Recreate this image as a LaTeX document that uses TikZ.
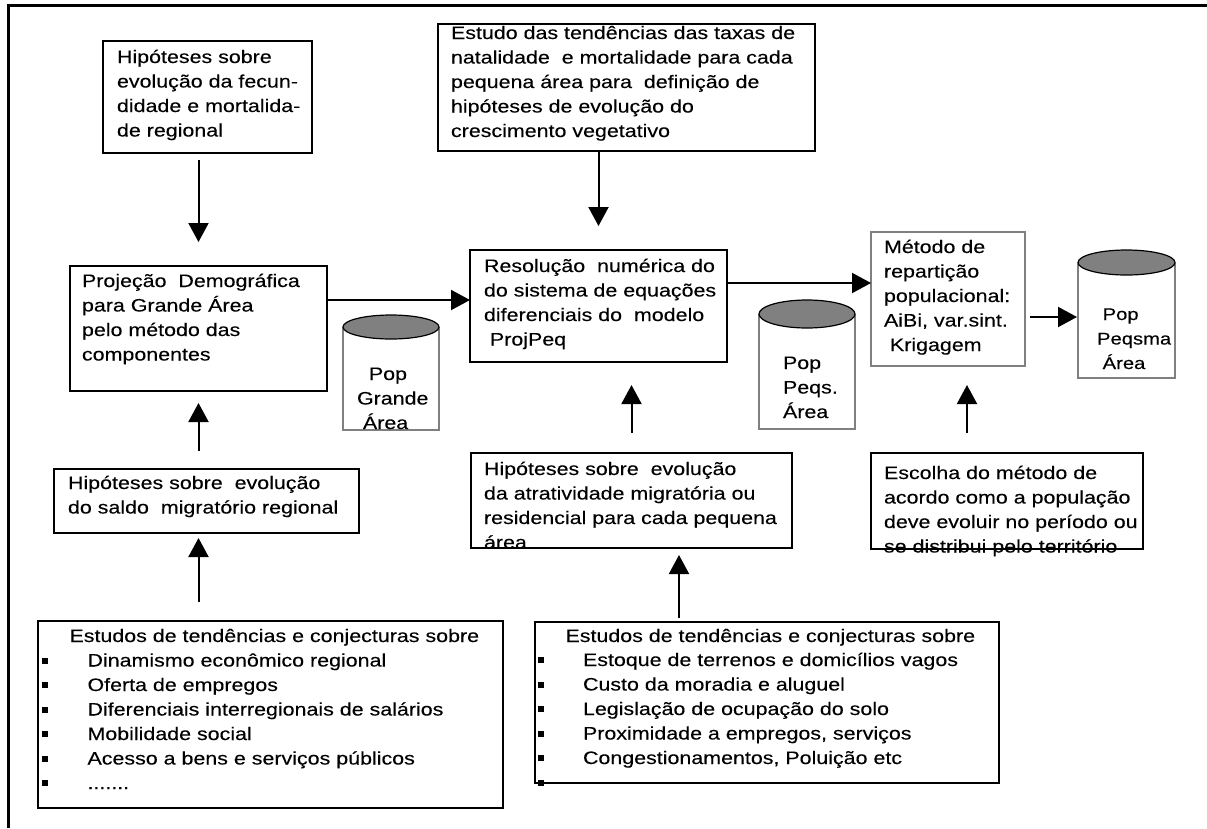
\documentclass[tikz,border=0pt]{standalone}
\usepackage{fontspec}
\setmainfont{Liberation Sans}[FakeStretch=1.19,FakeBold=0.15]
\usetikzlibrary{arrows.meta,calc}
\newcommand\bul{\llap{\rule[3pt]{6pt}{6pt}\hspace{39.5pt}}}
\newcommand\tl[1]{\begin{tabular}[t]{@{}l@{}}#1\end{tabular}}
\begin{document}
\begin{tikzpicture}[x=1pt,y=-1pt,
  box/.style={draw, line width=1.8pt, inner sep=0, outer sep=0, anchor=north west},
  gbox/.style={box, draw=gray},
  hold/.style={inner sep=0, outer sep=0, anchor=north west},
  txt/.style={inner sep=0, outer sep=0, anchor=base west,
    font=\fontsize{18}{24.5}\selectfont},
  cyl/.style={draw=gray, line width=1.8pt},
  cyltop/.style={draw=black, fill=gray, line width=1.2pt},
  arr/.style={line width=2pt, -{Triangle[length=19pt,width=20pt]}},
  frame/.style={line width=2.5pt}]
\useasboundingbox (0,0) rectangle (1207,828);
\fill[white] (0,0) rectangle (1207,828);

% outer frame
\coordinate (fa) at (8.5,828);
\coordinate (fb) at (8.5,5.5);
\coordinate (fc) at (1207,5.5);
\draw[frame] (fa) -- (fb) -- (fc);

% boxes
\node[box, minimum width=209, minimum height=112] (hf) at (103,41) {};
\node[box, minimum width=377, minimum height=127] (et) at (438,24) {};
\node[box, minimum width=257, minimum height=125] (proj) at (70,266) {};
\node[box, minimum width=257, minimum height=112] (res) at (470,250) {};
\node[gbox, minimum width=154, minimum height=134] (met) at (871,232) {};
\node[box, minimum width=305, minimum height=64] (saldo) at (54,469) {};
\node[box, minimum width=321, minimum height=95] (atr) at (471,453) {};
\node[box, minimum width=272, minimum height=96] (esc) at (871,453) {};
\node[box, minimum width=465, minimum height=187] (estL) at (38,621) {};
\node[box, minimum width=464, minimum height=161] (estR) at (535,622) {};

% texts (positioned at the baseline of their first line)
\node[txt] (thf) at (117,63) {\tl{Hipóteses sobre\\evolução da fecun-\\didade e mortalida-\\de regional}};
\node[txt] (tet) at (451,39) {\tl{Estudo das tendências das taxas de\\natalidade~ e mortalidade para cada\\pequena área para~ definição de\\hipóteses de evolução do\\crescimento vegetativo}};
\node[txt] (tproj) at (82,287) {\tl{Projeção~ Demográfica\\para Grande Área\\pelo método das\\componentes}};
\node[txt] (tres) at (484,272) {\tl{Resolução~ numérica do\\do sistema de equações\\diferenciais do~ modelo\\~ProjPeq}};
\node[txt] (tmet) at (884,253) {\tl{Método de\\repartição\\populacional:\\AiBi, var.sint.\\~Krigagem}};
\node[txt] (tsaldo) at (68,489) {\tl{Hipóteses sobre~ evolução\\do saldo~ migratório regional}};
\node[txt] (tatr) at (484,475) {\tl{Hipóteses sobre~ evolução\\da atratividade migratória ou\\residencial para cada pequena\\área}};
\node[txt] (tesc) at (884,479) {\tl{Escolha do método de\\acordo como a população\\deve evoluir no período ou\\se distribui pelo território}};
\node[txt] (testLh) at (69.5,642) {Estudos de tendências e conjecturas sobre};
\node[txt] (testLi) at (87.5,666.5) {\tl{\bul Dinamismo econômico regional\\\bul Oferta de empregos\\\bul Diferenciais interregionais de salários\\\bul Mobilidade social\\\bul Acesso a bens e serviços públicos\\\bul .......}};
\node[txt] (testRh) at (565.5,642) {Estudos de tendências e conjecturas sobre};
\node[txt] (testRi) at (583,666) {\tl{\bul Estoque de terrenos e domicílios vagos\\\bul Custo da moradia e aluguel\\\bul Legislação de ocupação do solo\\\bul Proximidade a empregos, serviços\\\bul Congestionamentos, Poluição etc\\\bul}};

% cylinders
\node[hold, minimum width=96, minimum height=115] (pg) at (343,315) {};
\draw[cyl] ([yshift=-12pt]pg.north west) |- (pg.south east) -- ([yshift=-12pt]pg.north east);
\draw[cyltop] ([yshift=-12pt]pg.north) ellipse [x radius=48, y radius=12];
\node[txt] (tpg) at (357,380) {\tl{~~Pop\\Grande\\~Área}};

\node[hold, minimum width=96, minimum height=129] (pq) at (759,300) {};
\draw[cyl] ([yshift=-14pt]pq.north west) |- (pq.south east) -- ([yshift=-14pt]pq.north east);
\draw[cyltop] ([yshift=-14pt]pq.north) ellipse [x radius=48, y radius=14];
\node[txt] (tpq) at (783,369) {\tl{Pop\\Peqs.\\Área}};

\node[hold, minimum width=97, minimum height=128] (pm) at (1078,250) {};
\draw[cyl] ([yshift=-12.5pt]pm.north west) |- (pm.south east) -- ([yshift=-12.5pt]pm.north east);
\draw[cyltop] ([yshift=-12.5pt]pm.north) ellipse [x radius=48.5, y radius=12.5];
\node[txt, font=\fontsize{17}{24.5}\selectfont] (tpm) at (1097,320) {\tl{~Pop\\Peqsma\\~Área}};

% connectors
\draw[arr, shorten <=7pt, shorten >=24pt] (hf.south -| proj.north) -- (proj.north);
\draw[arr, shorten <=18pt, shorten >=12pt] (saldo.north -| proj.south) -- (proj.south);
\draw[arr, shorten <=19pt, shorten >=5pt] (estL.north -| proj.south) -- (saldo.south -| proj.south);
\coordinate (p4) at ([yshift=-34pt]proj.north east);
\draw[arr] (p4) -- (p4 -| res.west);
\draw[arr, shorten >=24pt] (et.south -| res.north) -- (res.north);
\draw[arr, shorten <=20pt, shorten >=23pt] (atr.north) -- (atr.north |- res.south);
\coordinate (x7) at (679,0);
\draw[arr, shorten <=4pt, shorten >=7pt] (estR.north -| x7) -- (atr.south -| x7);
\coordinate (p8) at ([yshift=-33pt]res.north east);
\draw[arr] (p8) -- (p8 -| met.west);
\coordinate (x9) at (967,0);
\draw[arr, shorten <=20pt, shorten >=19pt] (esc.north -| x9) -- (met.south -| x9);
\coordinate (p10) at ([yshift=-85pt]met.north east);
\draw[arr, shorten <=5pt, shorten >=1pt] (p10) -- (p10 -| pm.west);
\end{tikzpicture}
\end{document}
